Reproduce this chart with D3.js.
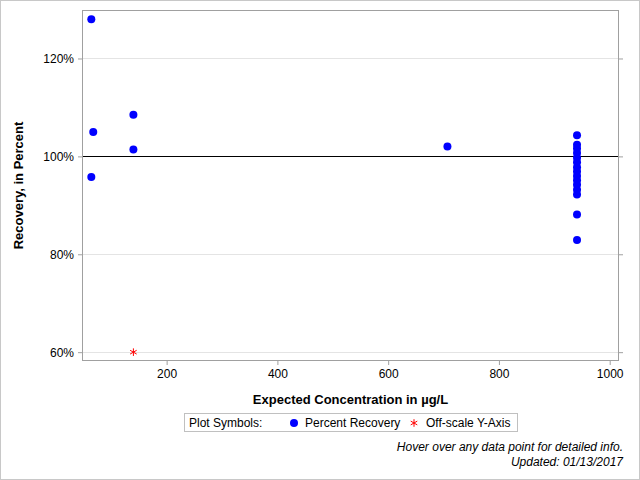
<!DOCTYPE html>
<html>
<head>
<meta charset="utf-8">
<script src="https://cdn.jsdelivr.net/npm/d3@7"></script>
<style>
  body { margin: 0; background: #fff; }
  svg { display: block; font-family: "Liberation Sans", Arial, sans-serif; }
</style>
</head>
<body>
<svg id="chart" width="640" height="480"></svg>
<script>
// Datas
const expectedConc = [64, 67.5, 64, 140, 140, 707,
  941, 941, 941, 941, 941, 941, 941, 941, 941, 941, 941, 941, 941, 941, 941];
const percentRecovery = [128.0, 105.0, 95.8, 108.5, 101.4, 102.0,
  104.3, 102.4, 101.6, 100.7, 99.7, 98.8, 97.8, 96.9, 96.0, 95.1, 94.2, 93.2, 92.2, 88.1, 82.9];
// Points below the y axis, drawn at the bottom tick
const offScaleConc = [140];
const offScaleRecovery = [60];

const xTicks = [200, 400, 600, 800, 1000];
const yTicks = [60, 80, 100, 120];

const BLUE = "#0000FF";
const RED = "#FF0000";
const FRAME = "#A0A0A0";
const GRID = "#E4E4E4";

const width = 640;
const height = 480;
const margins = { top: 11, right: 22, bottom: 120, left: 83 };
const graphWidth = width - margins.left - margins.right;
const graphHeight = height - margins.top - margins.bottom;

const svg = d3.select("#chart");

// Outer border of the image
svg.append("rect")
  .attr("x", 0.5).attr("y", 0.5)
  .attr("width", width - 1).attr("height", height - 1)
  .attr("fill", "none").attr("stroke", "#C8C8C8");

const graph = svg.append("g")
  .attr("transform", `translate(${margins.left}, ${margins.top})`);

// Scales
const x = d3.scaleLinear().domain([49, 1015]).range([0, graphWidth]);
const y = d3.scaleLinear().domain([58.4, 129.7]).range([graphHeight, 0]);

// Horizontal gridlines
graph.append("g")
  .selectAll("line")
  .data(yTicks)
  .join("line")
  .attr("x1", 0).attr("x2", graphWidth)
  .attr("y1", (d) => Math.round(y(d)) + 0.5)
  .attr("y2", (d) => Math.round(y(d)) + 0.5)
  .attr("stroke", GRID);

// Reference line at 100%
graph.append("line")
  .attr("x1", 0).attr("x2", graphWidth)
  .attr("y1", Math.round(y(100)) + 0.5)
  .attr("y2", Math.round(y(100)) + 0.5)
  .attr("stroke", "#000");

// Axes
const axisX = d3.axisBottom(x).tickValues(xTicks).tickSize(5).tickPadding(4)
  .tickFormat(d3.format("d"));
const axisY = d3.axisLeft(y).tickValues(yTicks).tickSize(5).tickPadding(4)
  .tickFormat((d) => d + "%");
const axisYRight = d3.axisRight(y).tickValues(yTicks).tickSize(5).tickFormat("");

const styleAxis = (g) => {
  g.select(".domain").remove();
  g.selectAll(".tick line").attr("stroke", FRAME);
  g.selectAll(".tick text")
    .attr("fill", "#000")
    .style("font-size", "12px")
    .style("font-family", "'Liberation Sans', Arial, sans-serif");
};

graph.append("g")
  .attr("transform", `translate(0, ${graphHeight})`)
  .call(axisX).call(styleAxis);
graph.append("g").call(axisY).call(styleAxis);
graph.append("g")
  .attr("transform", `translate(${graphWidth}, 0)`)
  .call(axisYRight).call(styleAxis);

// Plot frame
graph.append("rect")
  .attr("x", -0.5).attr("y", -0.5)
  .attr("width", graphWidth + 1).attr("height", graphHeight + 1)
  .attr("fill", "none").attr("stroke", FRAME);

// Points
graph.append("g")
  .selectAll("circle")
  .data(expectedConc)
  .join("circle")
  .attr("cx", (d) => x(d))
  .attr("cy", (d, i) => y(percentRecovery[i]))
  .attr("r", 4)
  .attr("fill", BLUE);

// Off-scale points
const asterisk = d3.symbol().type(d3.symbolAsterisk).size(40);
graph.append("g")
  .selectAll("path")
  .data(offScaleConc)
  .join("path")
  .attr("d", asterisk)
  .attr("transform", (d, i) => `translate(${x(d)}, ${y(offScaleRecovery[i])})`)
  .attr("fill", "none")
  .attr("stroke", RED)
  .attr("stroke-width", 1);

// Axis titles
svg.append("text")
  .text("Expected Concentration in µg/L")
  .attr("x", margins.left + graphWidth / 2)
  .attr("y", 404)
  .attr("text-anchor", "middle")
  .attr("font-weight", "bold")
  .attr("font-size", 13);

svg.append("text")
  .text("Recovery, in Percent")
  .attr("transform", `translate(23, ${margins.top + graphHeight / 2}) rotate(-90)`)
  .attr("text-anchor", "middle")
  .attr("font-weight", "bold")
  .attr("font-size", 13);

// Legend
const legend = svg.append("g").attr("transform", "translate(184, 413)");
legend.append("rect")
  .attr("x", 0.5).attr("y", 0.5)
  .attr("width", 333).attr("height", 18)
  .attr("fill", "#fff").attr("stroke", "#C0C0C0");
legend.append("text").text("Plot Symbols:")
  .attr("x", 5).attr("y", 14).attr("font-size", 12);
legend.append("circle")
  .attr("cx", 110).attr("cy", 10).attr("r", 4).attr("fill", BLUE);
legend.append("text").text("Percent Recovery")
  .attr("x", 121).attr("y", 14).attr("font-size", 12);
legend.append("path")
  .attr("d", asterisk)
  .attr("transform", "translate(230, 10)")
  .attr("fill", "none").attr("stroke", RED);
legend.append("text").text("Off-scale Y-Axis")
  .attr("x", 242).attr("y", 14).attr("font-size", 12);

// Footnotes
svg.append("text")
  .text("Hover over any data point for detailed info.")
  .attr("x", 623).attr("y", 451)
  .attr("text-anchor", "end")
  .attr("font-style", "italic")
  .attr("font-size", 12);
svg.append("text")
  .text("Updated: 01/13/2017")
  .attr("x", 623).attr("y", 466)
  .attr("text-anchor", "end")
  .attr("font-style", "italic")
  .attr("font-size", 12);
</script>
</body>
</html>
